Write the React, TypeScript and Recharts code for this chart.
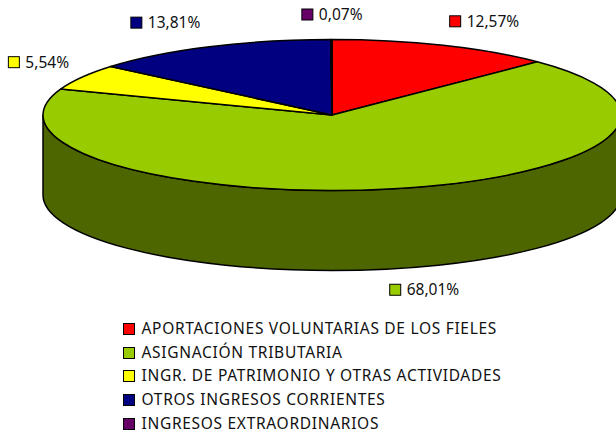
import React from "react";
import { PieChart, Pie, Legend } from "recharts";

const categories = [
  "APORTACIONES VOLUNTARIAS DE LOS FIELES",
  "ASIGNACIÓN TRIBUTARIA",
  "INGR. DE PATRIMONIO Y OTRAS ACTIVIDADES",
  "OTROS INGRESOS CORRIENTES",
  "INGRESOS EXTRAORDINARIOS",
];
const values = [12.57, 68.01, 5.54, 13.81, 0.07];
const topColors = ["#FF0000", "#99CC00", "#FFFF00", "#000080", "#660066"];
const sideColors = ["#800000", "#4D6600", "#808000", "#000040", "#330033"];

const data = categories.map((name, i) => ({
  name,
  value: values[i],
  fill: topColors[i],
  side: sideColors[i],
}));

// layout
const CX = 332;
const CY = 115;
const RX = 289;
const RY = 75.5;
const DEPTH = 80;
const FONT = "'Noto Sans', sans-serif";
const labelNudges = [
  [12, -24],
  [1.5, 101],
  [-68, -15],
  [-73, -24],
  [-24, -25],
];

const pt = (cx: number, cy: number, rx: number, deg: number) => {
  const t = (deg * Math.PI) / 180;
  return [cx + rx * Math.cos(t), cy - (rx * (RY / RX)) * Math.sin(t)];
};

const TopSector = (p: any) => {
  const { cx, cy, outerRadius: r, startAngle, endAngle, fill } = p;
  const ry = r * (RY / RX);
  const [x0, y0] = pt(cx, cy, r, startAngle);
  const [x1, y1] = pt(cx, cy, r, endAngle);
  const large = Math.abs(startAngle - endAngle) > 180 ? 1 : 0;
  return (
    <path
      d={`M${cx},${cy}L${x0},${y0}A${r},${ry} 0 ${large} 1 ${x1},${y1}Z`}
      fill={fill}
      stroke="#000"
      strokeWidth={1.5}
      strokeLinejoin="round"
    />
  );
};

const WallSector = (p: any) => {
  const { cx, cy, outerRadius: r, startAngle, endAngle, payload } = p;
  const ry = r * (RY / RX);
  const hi = Math.max(startAngle, endAngle);
  const lo = Math.min(startAngle, endAngle);
  const parts: string[] = [];
  [0, -360].forEach((k) => {
    const a = Math.min(hi, k);
    const b = Math.max(lo, -180 + k);
    if (a > b) {
      const [x0, y0] = pt(cx, cy, r, a);
      const [x1, y1] = pt(cx, cy, r, b);
      parts.push(
        `M${x0},${y0}A${r},${ry} 0 0 1 ${x1},${y1}L${x1},${y1 + DEPTH}A${r},${ry} 0 0 0 ${x0},${y0 + DEPTH}Z`
      );
    }
  });
  if (!parts.length) return <g />;
  return <path d={parts.join("")} fill={payload.side} stroke="#000" strokeWidth={1.5} strokeLinejoin="round" />;
};

const renderLabel = (p: any) => {
  const { cx, cy, outerRadius: r, midAngle, value, index, fill } = p;
  const [ax, ay] = pt(cx, cy, r, midAngle);
  const x = ax + labelNudges[index][0];
  const y = ay + labelNudges[index][1];
  return (
    <g key={index}>
      <rect x={x - 5.5} y={y - 5.5} width={11} height={11} fill={fill} stroke="#000" strokeWidth={1} />
      <text
        x={x + 11.5}
        y={y + 5.5}
        fontFamily={FONT}
        fontSize={15.5}
        fill="#111"
        textAnchor="start"
      >
        {value.toFixed(2).replace(".", ",")}%
      </text>
    </g>
  );
};

const renderLegend = (props: any) => {
  const seen = new Set<string>();
  const rows = (props.payload || []).filter((e: any) => {
    if (seen.has(e.value)) return false;
    seen.add(e.value);
    return true;
  });
  return (
    <div style={{ fontFamily: FONT, fontSize: 15.5, letterSpacing: 0.7, color: "#111" }}>
      {rows.map((e: any, i: number) => (
        <div key={i} style={{ height: 23.7, lineHeight: "23.7px", display: "flex", alignItems: "center", whiteSpace: "nowrap" }}>
          <span
            style={{
              display: "inline-block",
              width: 10,
              height: 10,
              marginRight: 6.5,
              background: e.color,
              border: "1px solid #000",
            }}
          />
          <span>{e.value}</span>
        </div>
      ))}
    </div>
  );
};

export default function App() {
  return (
    <div style={{ position: "absolute", left: 0, top: 0, width: 616, height: 430, background: "#fff" }}>
      <PieChart width={616} height={430} margin={{ top: 0, right: 0, bottom: 0, left: 0 }}>
        <Pie
          data={data}
          dataKey="value"
          nameKey="name"
          cx={CX}
          cy={CY}
          outerRadius={RX}
          innerRadius={0}
          startAngle={90}
          endAngle={-270}
          isAnimationActive={false}
          legendType="none"
          shape={WallSector}
          label={false}
          labelLine={false}
        />
        <Pie
          data={data}
          dataKey="value"
          nameKey="name"
          cx={CX}
          cy={CY}
          outerRadius={RX}
          innerRadius={0}
          startAngle={90}
          endAngle={-270}
          isAnimationActive={false}
          shape={TopSector}
          label={renderLabel}
          labelLine={false}
        />
        <Legend
          layout="horizontal"
          align="left"
          verticalAlign="bottom"
          itemSorter={null}
          content={renderLegend}
          wrapperStyle={{ position: "absolute", left: 123, top: 317, bottom: "auto", width: 480 }}
        />
      </PieChart>
    </div>
  );
}
